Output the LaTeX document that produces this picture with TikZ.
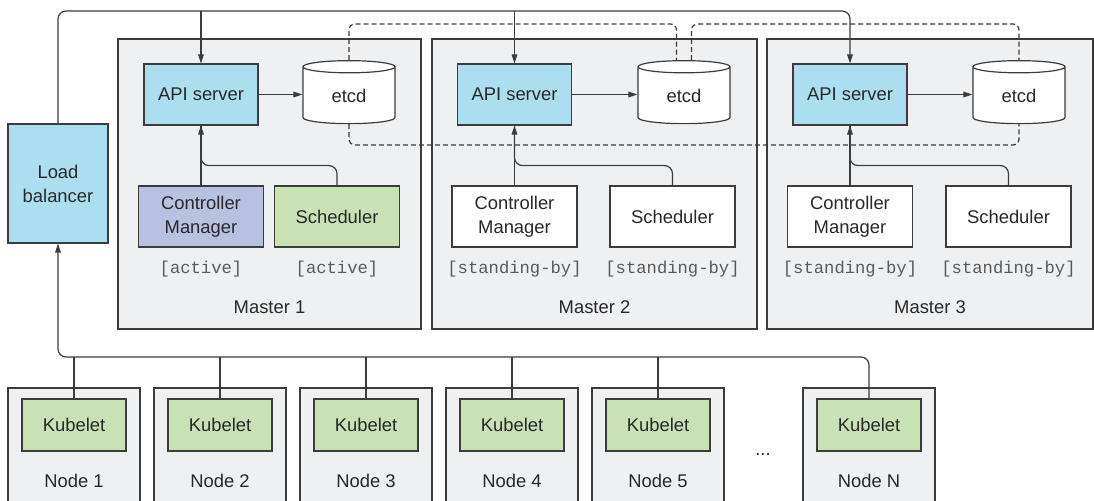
\documentclass[tikz,border=0pt]{standalone}
\usepackage{fontspec}
\setmainfont{Liberation Sans}
\setmonofont{Liberation Mono}
\usepackage{tikz}
\usetikzlibrary{arrows.meta,shapes.geometric}
\definecolor{hostgray}{RGB}{239,240,242}
\definecolor{apiblue}{RGB}{171,223,239}
\definecolor{ctrlpurple}{RGB}{185,193,225}
\definecolor{schedgreen}{RGB}{201,225,180}
\definecolor{linegray}{RGB}{60,60,60}
\definecolor{textdark}{RGB}{40,40,40}
\definecolor{monogray}{RGB}{90,90,90}

\begin{document}
\begin{tikzpicture}[
  x=0.5pt, y=-0.5pt,
  every node/.style={font=\fontsize{9.2}{12}\selectfont, text=textdark},
  host/.style={draw=linegray, fill=hostgray, line width=0.6pt, inner sep=0},
  box/.style={draw=linegray, line width=0.6pt, fill=white, minimum width=62.5pt,
              minimum height=30.5pt, align=center, inner sep=0},
  api/.style={box, fill=apiblue, minimum width=57pt},
  kube/.style={box, fill=schedgreen, minimum width=52pt, minimum height=26pt},
  store/.style={draw=linegray, line width=0.6pt, fill=white, cylinder,
                shape border rotate=90, aspect=0.35, minimum width=46pt,
                minimum height=31.5pt, inner sep=0},
  status/.style={font=\ttfamily\fontsize{8.6}{10}\selectfont, text=monogray},
  arr/.style={-{Triangle[length=4.5pt,width=2.8pt]}, draw=linegray, line width=0.6pt},
  link/.style={draw=linegray, line width=0.6pt},
  sync/.style={link, dash pattern=on 2.5pt off 1.5pt, rounded corners=3pt}
]
  \useasboundingbox (0,0) rectangle (1094,501);

  % masters
  \node[host, minimum width=151.5pt, minimum height=145pt] (m1) at (269.5,184) {};
  \node[host, minimum width=162.5pt, minimum height=145pt] (m2) at (594.5,184) {};
  \node[host, minimum width=163pt,   minimum height=145pt] (m3) at (930,184) {};
  \node (m1lbl) at (269.5,307) {Master 1};
  \node (m2lbl) at (594.5,307) {Master 2};
  \node (m3lbl) at (930,307)   {Master 3};

  \node[api, minimum width=50pt, minimum height=59.5pt] (lb) at (58,183.5) {Load\\balancer};

  \node[api]   (api1) at (201,94.5)  {API server};
  \node[store] (etcd1) at (349,95.5) {etcd};
  \node[box, fill=ctrlpurple] (cm1) at (201,216.5) {Controller\\Manager};
  \node[box, fill=schedgreen] (sch1) at (337,216.5) {Scheduler};
  \node[status] (cm1st)  at (201,269) {[active]};
  \node[status] (sch1st) at (337,269) {[active]};

  \node[api]   (api2) at (514.5,94.5) {API server};
  \node[store] (etcd2) at (684,95.5)  {etcd};
  \node[box] (cm2)  at (514.5,216.5) {Controller\\Manager};
  \node[box] (sch2) at (672.5,216.5) {Scheduler};
  \node[status] (cm2st)  at (514.5,269) {[standing-by]};
  \node[status] (sch2st) at (672.5,269) {[standing-by]};

  \node[api]   (api3) at (850,94.5)  {API server};
  \node[store] (etcd3) at (1019,95.5) {etcd};
  \node[box] (cm3)  at (850,216.5)    {Controller\\Manager};
  \node[box] (sch3) at (1008.5,216.5) {Scheduler};
  \node[status] (cm3st)  at (850,269)    {[standing-by]};
  \node[status] (sch3st) at (1008.5,269) {[standing-by]};

  % worker nodes
  \foreach \i/\x/\n in {1/74/1,2/220/2,3/366/3,4/512/4,5/658/5,6/869/N}{
    \node[host, minimum width=66pt, minimum height=62pt] (n\i) at (\x,450) {};
    \node[kube] (kub\i) at (\x,425) {Kubelet};
    \node (n\i lbl) at (\x,481) {Node \n};
  }
  \node (dots) at (763,455) {...};

  \coordinate (top)  at (0,11);
  \coordinate (dtop) at (0,24);
  \coordinate (dbot) at (0,145);
  \coordinate (bus)  at (0,357);

  % load balancer to the API servers
  \draw[arr, rounded corners=4pt] (lb.north) |- (top -| api3.north) -- (api3.north);
  \draw[arr] (top -| api1.north) -- (api1.north);
  \draw[arr] (top -| api2.north) -- (api2.north);

  \foreach \m in {1,2,3}{
    \draw[arr] (api\m.east) -- (api\m.east -| etcd\m.west);
    \draw[link] (cm\m.north) -- (api\m.south);
    \draw[arr, rounded corners=4pt] (sch\m.north) |- ([yshift=-20pt]api\m.south) -- (api\m.south);
  }

  % etcd cluster
  \coordinate (e2a) at ([xshift=-3.75pt]etcd2.north);
  \coordinate (e2b) at ([xshift=3.75pt]etcd2.north);
  \draw[sync] (etcd1.north) |- (dtop -| e2a) -- (e2a);
  \draw[sync] (e2b) |- (dtop -| etcd3.north) -- (etcd3.north);
  \draw[sync] (etcd1.south) |- (dbot -| etcd3.south) -- (etcd3.south);

  % kubelets to the load balancer
  \draw[arr, rounded corners=4pt] (kub6.north) |- (bus -| lb.south) -- (lb.south);
  \foreach \i in {1,...,5}
    \draw[link] (kub\i.north) -- (bus -| kub\i.north);
\end{tikzpicture}
\end{document}
